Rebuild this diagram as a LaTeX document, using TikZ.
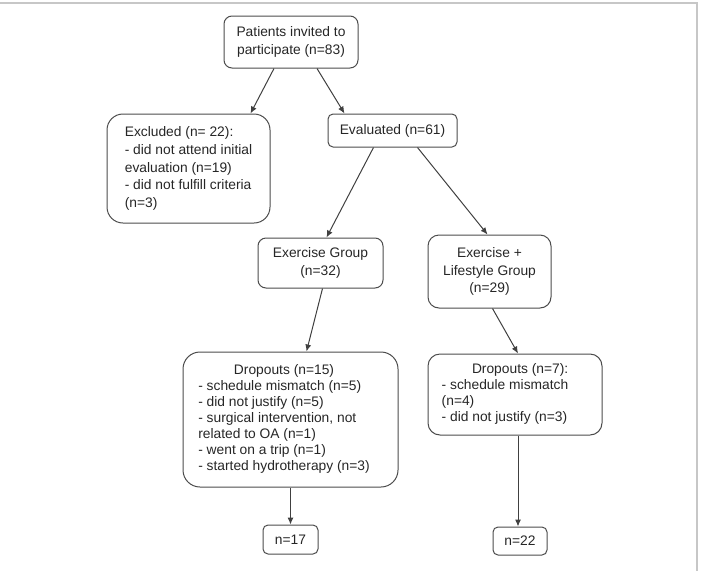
\documentclass[tikz,border=0pt]{standalone}
\usepackage{fontspec}
\setmainfont{Liberation Sans}
\usepackage{xcolor}
\usetikzlibrary{arrows.meta}

\tikzset{
  box/.style={draw=black!70, line width=1pt, rounded corners=#1, align=center,
    inner sep=0pt, text=black!85, font=\fontsize{13.8}{17.8}\selectfont},
  box/.default=8pt,
  dropbox/.style={box=#1, font=\fontsize{13.8}{15.9}\selectfont},
  link/.style={draw=black!75, line width=1pt, ->},
}

\begin{document}
\begin{tikzpicture}[x=1pt, y=-1pt, >={Latex[length=7pt,width=6pt]}]
    \useasboundingbox (0,0) rectangle (701,571);
    \draw[black!22, line width=2pt] (0,3)--(697,3)--(697,571);

    % boxes
    \node[box=8pt, minimum width=134pt, minimum height=52pt] (invited) at (291,42)
        {Patients invited to\\participate (n=83)};
    \node[box=16pt, minimum width=163pt, minimum height=109pt, align=left] (excluded) at (188.5,168.5)
        {Excluded (n= 22):\\- did not attend initial\\evaluation (n=19)\\- did not fulfill criteria\\(n=3)};
    \node[box=5pt, minimum width=129pt, minimum height=33pt] (evaluated) at (392.5,130.5)
        {Evaluated (n=61)};
    \node[box=8pt, minimum width=125pt, minimum height=50pt] (exgroup) at (320.5,263)
        {Exercise Group\\(n=32)};
    \node[box=11pt, minimum width=123pt, minimum height=73pt] (lsgroup) at (489.5,271.5)
        {Exercise +\\Lifestyle Group\\(n=29)};
    \node[dropbox=17pt, minimum width=215pt, minimum height=135pt] (dropex) at (290.5,419.5)
        {\begin{tabular}{@{}l@{\hspace{13pt}}}
         \multicolumn{1}{@{}c@{\hspace{13pt}}}{Dropouts (n=15)}\\
         - schedule mismatch (n=5)\\
         - did not justify (n=5)\\
         - surgical intervention, not\\
         related to OA (n=1)\\
         - went on a trip (n=1)\\
         - started hydrotherapy (n=3)
         \end{tabular}};
    \node[dropbox=12pt, minimum width=174pt, minimum height=81pt] (dropls) at (515,394.5)
        {\begin{tabular}{@{}l@{\hspace{20pt}}}
         \multicolumn{1}{@{}r@{\hspace{20pt}}}{Dropouts (n=7):}\\
         - schedule mismatch\\
         (n=4)\\
         - did not justify (n=3)
         \end{tabular}};
    \node[box=5pt, minimum width=55pt, minimum height=29pt] (finex) at (290.5,539.5) {n=17};
    \node[box=5pt, minimum width=54pt, minimum height=28pt] (finls) at (520,541) {n=22};

    % arrows
    \draw[link] ([xshift=-17pt]invited.south)--([xshift=62pt]excluded.north);
    \draw[link] ([xshift=26pt]invited.south)--([xshift=-48pt]evaluated.north);
    \draw[link] ([xshift=-19pt]evaluated.south)--([xshift=6pt]exgroup.north);
    \draw[link] ([xshift=25pt]evaluated.south)--([xshift=-2pt]lsgroup.north);
    \draw[link] ([xshift=2pt]exgroup.south)--([xshift=16pt]dropex.north);
    \draw[link] ([xshift=3pt]lsgroup.south)--([xshift=3pt]dropls.north);
    \draw[link] (dropex.south)--(finex.north);
    \draw[link] ([xshift=3pt]dropls.south)--([xshift=-2pt]finls.north);
\end{tikzpicture}
\end{document}
